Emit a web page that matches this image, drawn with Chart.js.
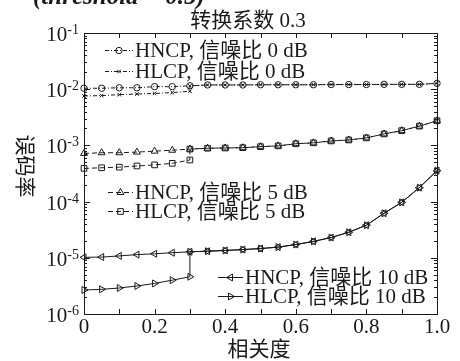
<!DOCTYPE html>
<html lang="zh">
<head>
  <meta charset="UTF-8">
  <title>转换系数 0.3</title>
  <script src="https://cdn.jsdelivr.net/npm/chart.js"></script>
  <style>
    body {
      margin: 0;
      background: #fff;
    }
    #grafica {
      display: block;
    }
  </style>
</head>
<body>
  <canvas id="grafica" width="460" height="361"></canvas>

  <script>
    // Datos
    const corr = [0, 0.05, 0.1, 0.15, 0.2, 0.25, 0.3, 0.35, 0.4, 0.45, 0.5,
                  0.55, 0.6, 0.65, 0.7, 0.75, 0.8, 0.85, 0.9, 0.95, 1.0];

    const hncp0 = [0.0104, 0.0104, 0.0106, 0.0106, 0.0111, 0.0111, 0.0115, 0.0119, 0.0119, 0.0119, 0.0120,
                   0.0120, 0.0120, 0.0120, 0.0121, 0.0121, 0.0121, 0.0122, 0.0122, 0.0122, 0.0127];
    const hlcp0Low = [0.00757, 0.0077, 0.0080, 0.0082, 0.0084, 0.0087, 0.0092];

    const hncp5 = [7.2e-4, 7.4e-4, 7.4e-4, 7.6e-4, 7.9e-4, 8.2e-4, 8.6e-4, 8.9e-4, 9.0e-4, 9.1e-4, 9.5e-4,
                   9.8e-4, 1.07e-3, 1.11e-3, 1.20e-3, 1.25e-3, 1.36e-3, 1.6e-3, 1.83e-3, 2.2e-3, 2.75e-3];
    const hlcp5Low = [3.9e-4, 4.0e-4, 4.1e-4, 4.3e-4, 4.5e-4, 4.8e-4, 5.5e-4];

    const hncp10 = [1.02e-5, 1.03e-5, 1.08e-5, 1.14e-5, 1.18e-5, 1.23e-5, 1.28e-5, 1.31e-5, 1.35e-5, 1.40e-5, 1.46e-5,
                    1.55e-5, 1.72e-5, 1.96e-5, 2.29e-5, 2.85e-5, 3.8e-5, 6.2e-5, 9.7e-5, 1.77e-4, 3.55e-4];
    const hlcp10Low = [2.67e-6, 2.75e-6, 2.9e-6, 3.15e-6, 3.5e-6, 4.0e-6, 4.6e-6];

    const xTicks = [0, 0.1, 0.2, 0.3, 0.4, 0.5, 0.6, 0.7, 0.8, 0.9, 1.0];
    const xTickLabels = ['0', '', '0.2', '', '0.4', '', '0.6', '', '0.8', '', '1.0'];
    const yExps = [-1, -2, -3, -4, -5, -6];

    const etiquetas = ['HNCP, 信噪比 0 dB', 'HLCP, 信噪比 0 dB', 'HNCP, 信噪比 5 dB',
                       'HLCP, 信噪比 5 dB', 'HNCP, 信噪比 10 dB', 'HLCP, 信噪比 10 dB'];

    const serif = '"Liberation Serif", "Times New Roman", "Noto Sans CJK SC", serif';
    const negro = '#1a1a1a';

    // HNCP: curva completa; HLCP: tramo bajo hasta 0.3 y luego se une a HNCP
    function serieN(vals) {
      return vals.map((v, i) => ({ x: corr[i], y: v }));
    }
    function serieL(low, vals) {
      const a = low.map((v, i) => ({ x: corr[i], y: v }));
      const b = vals.slice(low.length - 1).map((v, i) => ({ x: corr[i + low.length - 1], y: v }));
      return a.concat(b);
    }

    const dashDot = [4, 2, 1, 2];
    const dashed = [5, 3];

    function ds(label, data, style, radius, rotation, dash) {
      return {
        label: label,
        data: data,
        borderColor: negro,
        borderWidth: 1,
        borderDash: dash,
        pointStyle: style,
        pointRadius: radius,
        pointRotation: rotation,
        pointBorderColor: negro,
        pointBorderWidth: 1,
        pointBackgroundColor: 'rgba(0,0,0,0)',
        fill: false,
        tension: 0,
        clip: false
      };
    }

    const datasets = [
      ds(etiquetas[0], serieN(hncp0), 'circle', 3.2, 0, dashDot),
      ds(etiquetas[1], serieL(hlcp0Low, hncp0), 'crossRot', 2.5, 0, dashDot),
      ds(etiquetas[2], serieN(hncp5), 'triangle', 4, 0, dashed),
      ds(etiquetas[3], serieL(hlcp5Low, hncp5), 'rect', 4, 0, dashed),
      ds(etiquetas[4], serieN(hncp10), 'triangle', 4, -90, []),
      ds(etiquetas[5], serieL(hlcp10Low, hncp10), 'triangle', 4, 90, [])
    ];

    // posiciones de las leyendas (x inicio muestra, x fin muestra, y)
    const leyendas = [
      [105, 133, 50], [105, 133, 71],
      [108, 133, 192], [108, 133, 211],
      [218, 243, 277], [218, 243, 296]
    ];

    const dibujo = {
      id: 'dibujo',
      afterDraw(chart) {
        const ctx = chart.ctx;
        const a = chart.chartArea;
        const xs = chart.scales.x;
        const ys = chart.scales.y;
        ctx.save();
        ctx.strokeStyle = negro;
        ctx.fillStyle = negro;
        ctx.lineWidth = 1;

        // marco
        ctx.strokeRect(a.left + 0.5, a.top + 0.5, a.right - a.left, a.bottom - a.top);

        // marcas eje x (hacia dentro, abajo y arriba)
        ctx.beginPath();
        xTicks.forEach(v => {
          const px = Math.round(xs.getPixelForValue(v)) + 0.5;
          ctx.moveTo(px, a.bottom); ctx.lineTo(px, a.bottom - 5);
          ctx.moveTo(px, a.top); ctx.lineTo(px, a.top + 5);
        });
        // marcas eje y (décadas y menores)
        yExps.forEach(e => {
          for (let m = 1; m <= 9; m++) {
            if (e === -1 && m > 1) continue;
            const py = Math.round(ys.getPixelForValue(m * Math.pow(10, e))) + 0.5;
            const len = m === 1 ? 6 : 3;
            ctx.moveTo(a.left, py); ctx.lineTo(a.left + len, py);
            ctx.moveTo(a.right, py); ctx.lineTo(a.right - len, py);
          }
        });
        ctx.stroke();

        // etiquetas eje x
        ctx.font = '21px ' + serif;
        ctx.textAlign = 'center';
        ctx.textBaseline = 'alphabetic';
        xTicks.forEach((v, i) => {
          if (xTickLabels[i]) ctx.fillText(xTickLabels[i], xs.getPixelForValue(v), a.bottom + 19);
        });

        // etiquetas eje y: 10^e
        yExps.forEach(e => {
          const py = ys.getPixelForValue(Math.pow(10, e));
          const sup = String(e);
          ctx.font = '14px ' + serif;
          const wSup = ctx.measureText(sup).width;
          const xEnd = a.left - 5;
          ctx.textAlign = 'left';
          ctx.fillText(sup, xEnd - wSup, py + 1);
          ctx.font = '21px ' + serif;
          ctx.textAlign = 'right';
          ctx.fillText('10', xEnd - wSup, py + 8);
        });

        // títulos de ejes
        ctx.font = '21px ' + serif;
        ctx.textAlign = 'center';
        ctx.textBaseline = 'middle';
        ctx.fillText('相关度', 259, 350);
        ctx.fillText('转换系数 0.3', 248, 21);
        ctx.save();
        ctx.translate(24, 166);
        ctx.rotate(Math.PI / 2);
        ctx.fillText('误码率', 0, 0);
        ctx.restore();

        // texto cortado arriba
        ctx.font = 'italic bold 25px ' + serif;
        ctx.textAlign = 'left';
        ctx.textBaseline = 'alphabetic';
        ctx.fillText('(threshold = 0.5)', 33, 4);

        // leyendas
        ctx.font = '21px ' + serif;
        ctx.textBaseline = 'middle';
        chart.data.datasets.forEach((d, i) => {
          const [x0, x1, y] = leyendas[i];
          ctx.save();
          ctx.lineWidth = 1;
          ctx.setLineDash(d.borderDash);
          ctx.beginPath();
          ctx.moveTo(x0, y + 0.5); ctx.lineTo(x1, y + 0.5);
          ctx.stroke();
          ctx.setLineDash([]);
          ctx.fillStyle = 'rgba(0,0,0,0)';
          if (Chart.helpers && Chart.helpers.drawPoint) {
            Chart.helpers.drawPoint(ctx, {
              pointStyle: d.pointStyle, radius: d.pointRadius,
              rotation: d.pointRotation, borderWidth: 1
            }, (x0 + x1) / 2, y + 0.5);
          }
          ctx.restore();
          ctx.fillText(d.label, x1 + 2, y + 1);
        });
        ctx.restore();
      }
    };

    const ctx = document.getElementById('grafica').getContext('2d');
    new Chart(ctx, {
      type: 'line',
      data: { datasets: datasets },
      options: {
        responsive: false,
        animation: false,
        layout: { padding: { left: 84, right: 23, top: 33, bottom: 47 } },
        scales: {
          x: { type: 'linear', min: 0, max: 1, display: false },
          y: { type: 'logarithmic', min: 1e-6, max: 1e-1, display: false }
        },
        plugins: {
          legend: { display: false },
          tooltip: { enabled: false }
        }
      },
      plugins: [dibujo]
    });
  </script>
</body>
</html>
